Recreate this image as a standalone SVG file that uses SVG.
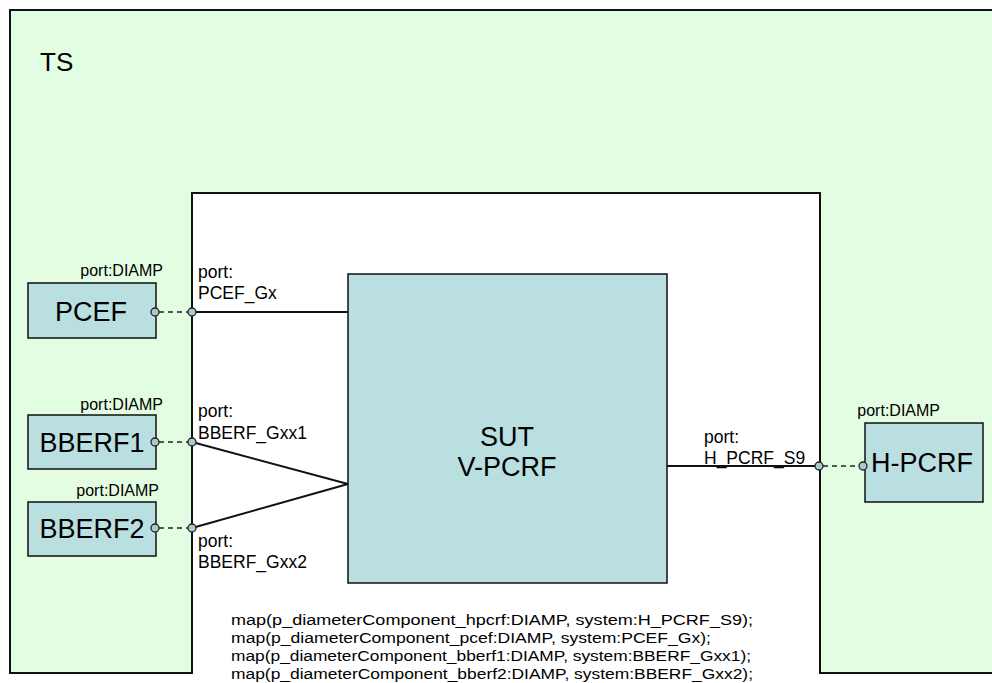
<svg xmlns="http://www.w3.org/2000/svg" width="992" height="683" viewBox="0 0 992 683">
  <style>
    text { font-family: "Liberation Sans", Arial, sans-serif; fill: #000; }
    .box { fill: #b9dfe1; stroke: #111; stroke-width: 1.5; }
    .name { font-size: 27px; text-anchor: middle; }
    .plabel { font-size: 16px; text-anchor: end; }
    .port { font-size: 17.5px; }
    .map { font-size: 15.5px; }
    .link { stroke: #111; stroke-width: 2; fill: none; }
    .dash { stroke: #222; stroke-width: 1.6; stroke-dasharray: 5 4; fill: none; }
    .pin { fill: #a9c9cc; stroke: #222; stroke-width: 1.3; }
  </style>

  <rect width="992" height="683" fill="#ffffff"/>

  <!-- test system frame with the SUT area cut out -->
  <g id="ts">
    <path d="M10,10 H994 V673 H820 V193 H192 V673 H10 Z" fill="#e3fde3" stroke="#111" stroke-width="2"/>
    <text x="40" y="71" font-size="26">TS</text>
  </g>

  <g id="sut">
    <rect class="box" x="348" y="274" width="319" height="309" stroke-width="2.5"/>
    <text class="name" x="507" y="446" font-size="26">SUT</text>
    <text class="name" x="507" y="476" font-size="26">V-PCRF</text>
  </g>

  <g id="pcef">
    <rect class="box" x="28" y="283" width="128" height="55"/>
    <text class="name" x="91" y="321">PCEF</text>
    <text class="plabel" x="163" y="276">port:DIAMP</text>
  </g>

  <g id="bberf1">
    <rect class="box" x="28" y="415" width="128" height="54"/>
    <text class="name" x="92" y="452">BBERF1</text>
    <text class="plabel" x="163" y="410">port:DIAMP</text>
  </g>

  <g id="bberf2">
    <rect class="box" x="28" y="502" width="128" height="54"/>
    <text class="name" x="92" y="538">BBERF2</text>
    <text class="plabel" x="159" y="496">port:DIAMP</text>
  </g>

  <g id="hpcrf">
    <rect class="box" x="865" y="423" width="118" height="79"/>
    <text class="name" x="922" y="472" font-size="28">H-PCRF</text>
    <text class="plabel" x="940" y="416">port:DIAMP</text>
  </g>

  <!-- port names on the SUT boundary -->
  <g id="system-ports">
    <text class="port" x="198" y="278">port:</text>
    <text class="port" x="198" y="299">PCEF_Gx</text>
    <text class="port" x="198" y="417">port:</text>
    <text class="port" x="198" y="439">BBERF_Gxx1</text>
    <text class="port" x="198" y="547">port:</text>
    <text class="port" x="198" y="568">BBERF_Gxx2</text>
    <text class="port" x="704" y="443">port:</text>
    <text class="port" x="704" y="464">H_PCRF_S9</text>
  </g>

  <g id="connectors">
    <line class="link" x1="192" y1="312" x2="348" y2="312"/>
    <line class="link" x1="192" y1="442" x2="348" y2="484"/>
    <line class="link" x1="192" y1="528" x2="348" y2="484"/>
    <line class="link" x1="667" y1="466" x2="819" y2="466"/>
    <line class="dash" x1="159" y1="312" x2="188" y2="312"/>
    <line class="dash" x1="159" y1="442" x2="188" y2="442"/>
    <line class="dash" x1="159" y1="528" x2="188" y2="528"/>
    <line class="dash" x1="823" y1="466" x2="859" y2="466"/>
    <circle class="pin" cx="155" cy="312" r="4"/>
    <circle class="pin" cx="192" cy="312" r="4"/>
    <circle class="pin" cx="155" cy="442" r="4"/>
    <circle class="pin" cx="192" cy="442" r="4"/>
    <circle class="pin" cx="155" cy="528" r="4"/>
    <circle class="pin" cx="192" cy="528" r="4"/>
    <circle class="pin" cx="819" cy="466" r="4"/>
    <circle class="pin" cx="863" cy="466" r="4"/>
  </g>

  <g id="port-map">
    <text class="map" x="231" y="625" textLength="522" lengthAdjust="spacingAndGlyphs">map(p_diameterComponent_hpcrf:DIAMP, system:H_PCRF_S9);</text>
    <text class="map" x="231" y="643" textLength="480" lengthAdjust="spacingAndGlyphs">map(p_diameterComponent_pcef:DIAMP, system:PCEF_Gx);</text>
    <text class="map" x="231" y="661" textLength="520" lengthAdjust="spacingAndGlyphs">map(p_diameterComponent_bberf1:DIAMP, system:BBERF_Gxx1);</text>
    <text class="map" x="231" y="679" textLength="522" lengthAdjust="spacingAndGlyphs">map(p_diameterComponent_bberf2:DIAMP, system:BBERF_Gxx2);</text>
  </g>
</svg>
